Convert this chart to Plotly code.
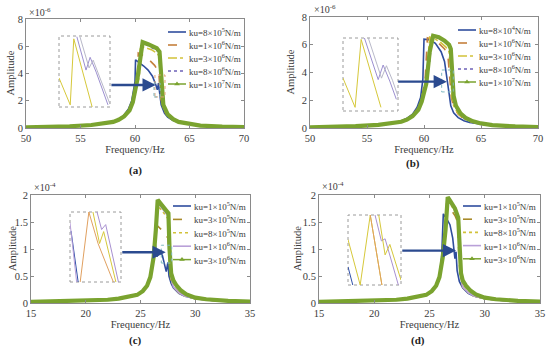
import plotly.graph_objects as go

W, H = 550, 354
FONT = "Liberation Serif, Times New Roman, DejaVu Serif, serif"
TXT = "#3a3a3a"
AX = "#8a8a8a"

# ---------------- data (amplitudes in units of the axis multiplier) ----------------
# Panel (a)  amplitude x1e-6
a_labels = ["ku=8×10<sup>5</sup>N/m", "ku=1×10<sup>6</sup>N/m", "ku=3×10<sup>6</sup>N/m",
            "ku=8×10<sup>6</sup>N/m", "ku=1×10<sup>7</sup>N/m"]
a1_f = [50, 52, 54, 56, 57, 58, 58.5, 59, 59.4, 59.7, 59.9, 60.0, 60.05, 60.4, 60.8, 61.2, 61.6, 61.9, 62.05, 62.15, 62.25, 62.4, 62.7, 63.0, 63.5, 64, 65, 66, 68, 70]
a1_A = [0.05, 0.08, 0.13, 0.22, 0.3, 0.48, 0.65, 0.95, 1.4, 2.0, 2.8, 3.4, 5.0, 4.8, 4.55, 4.25, 3.8, 3.2, 2.8, 3.3, 2.6, 1.7, 1.1, 0.8, 0.55, 0.42, 0.27, 0.18, 0.1, 0.06]
a2_f = [50, 52, 54, 56, 57, 58, 58.5, 59, 59.4, 59.7, 60.0, 60.2, 60.3, 60.8, 61.3, 61.8, 62.1, 62.2, 62.3, 62.5, 62.8, 63.2, 63.7, 64.5, 65.5, 67, 70]
a2_A = [0.05, 0.08, 0.13, 0.22, 0.3, 0.47, 0.63, 0.9, 1.3, 1.8, 2.6, 3.4, 5.5, 5.3, 5.0, 4.6, 4.2, 3.9, 2.6, 1.6, 1.1, 0.75, 0.52, 0.35, 0.24, 0.14, 0.06]
a3_f = [50, 52, 54, 56, 57, 58, 58.5, 59, 59.5, 59.8, 60.1, 60.4, 60.5, 61.0, 61.5, 62.0, 62.2, 62.3, 62.4, 62.6, 62.9, 63.3, 63.8, 64.5, 65.5, 67, 70]
a3_A = [0.05, 0.08, 0.13, 0.22, 0.3, 0.46, 0.62, 0.88, 1.4, 2.0, 2.9, 3.8, 6.0, 5.9, 5.75, 5.5, 5.3, 4.0, 2.2, 1.5, 1.05, 0.72, 0.5, 0.35, 0.24, 0.14, 0.06]
a4_f = [50, 52, 54, 56, 57, 58, 58.5, 59, 59.5, 59.8, 60.1, 60.4, 60.65, 61.2, 61.7, 62.2, 62.3, 62.4, 62.6, 62.9, 63.3, 63.8, 64.5, 65.5, 67, 70]
a4_A = [0.05, 0.08, 0.13, 0.22, 0.3, 0.46, 0.61, 0.86, 1.35, 1.9, 2.8, 4.0, 6.2, 6.05, 5.85, 5.6, 4.2, 2.4, 1.6, 1.1, 0.75, 0.52, 0.36, 0.25, 0.15, 0.06]
a5_f = [50, 52, 54, 56, 57, 58, 58.5, 59, 59.5, 59.8, 60.2, 60.5, 60.7, 61.2, 61.7, 62.0, 62.25, 62.35, 62.45, 62.6, 63.0, 63.5, 64.0, 65.0, 66.0, 68.0, 70]
a5_A = [0.05, 0.08, 0.13, 0.22, 0.3, 0.45, 0.6, 0.85, 1.3, 1.9, 3.5, 5.5, 6.3, 6.15, 5.95, 5.85, 5.6, 4.5, 2.5, 1.7, 1.0, 0.65, 0.45, 0.28, 0.18, 0.1, 0.06]

# Panel (b)  amplitude x1e-6
b_labels = ["ku=8×10<sup>4</sup>N/m", "ku=1×10<sup>6</sup>N/m", "ku=3×10<sup>6</sup>N/m",
            "ku=8×10<sup>6</sup>N/m", "ku=1×10<sup>7</sup>N/m"]
b1_f = [50, 52, 54, 56, 57, 58, 58.5, 59, 59.4, 59.7, 59.9, 60.0, 60.5, 61.0, 61.5, 61.8, 62.0, 62.1, 62.2, 62.35, 62.6, 63.0, 63.5, 64, 65, 66, 68, 70]
b1_A = [0.05, 0.08, 0.13, 0.22, 0.3, 0.5, 0.7, 1.0, 1.5, 2.2, 3.5, 6.4, 6.35, 6.1, 5.5, 4.8, 3.8, 3.3, 2.5, 1.6, 1.1, 0.75, 0.52, 0.4, 0.26, 0.17, 0.1, 0.06]
b2_f = [50, 52, 54, 56, 57, 58, 58.5, 59, 59.5, 59.8, 60.1, 60.3, 60.8, 61.3, 61.8, 62.1, 62.25, 62.4, 62.6, 63.0, 63.5, 64, 65, 66, 68, 70]
b2_A = [0.05, 0.08, 0.13, 0.22, 0.3, 0.48, 0.66, 0.95, 1.45, 2.1, 3.5, 6.5, 6.35, 6.1, 5.7, 5.2, 3.8, 2.2, 1.5, 1.0, 0.66, 0.47, 0.29, 0.19, 0.1, 0.06]
b3_f = [50, 52, 54, 56, 57, 58, 58.5, 59, 59.5, 59.8, 60.2, 60.5, 60.9, 61.4, 61.9, 62.2, 62.35, 62.45, 62.6, 63.0, 63.5, 64, 65, 66, 68, 70]
b3_A = [0.05, 0.08, 0.13, 0.22, 0.3, 0.47, 0.64, 0.92, 1.4, 2.0, 3.4, 6.55, 6.45, 6.2, 5.85, 5.5, 4.0, 2.3, 1.6, 1.05, 0.68, 0.48, 0.3, 0.19, 0.1, 0.06]
b4_f = [50, 52, 54, 56, 57, 58, 58.5, 59, 59.5, 59.8, 60.2, 60.5, 60.7, 61.2, 61.7, 62.1, 62.3, 62.45, 62.55, 62.7, 63.0, 63.5, 64, 65, 66, 68, 70]
b4_A = [0.05, 0.08, 0.13, 0.22, 0.3, 0.46, 0.62, 0.9, 1.35, 1.95, 3.2, 4.8, 6.6, 6.5, 6.3, 6.0, 5.7, 4.0, 2.4, 1.7, 1.15, 0.72, 0.5, 0.31, 0.2, 0.1, 0.06]
b5_f = [50, 52, 54, 56, 57, 58, 58.5, 59, 59.5, 59.8, 60.2, 60.5, 60.8, 61.3, 61.8, 62.2, 62.35, 62.5, 62.6, 62.8, 63.2, 63.7, 64.3, 65, 66, 68, 70]
b5_A = [0.05, 0.08, 0.13, 0.22, 0.3, 0.45, 0.6, 0.86, 1.3, 1.9, 3.2, 5.5, 6.65, 6.55, 6.3, 6.0, 5.7, 3.8, 2.3, 1.6, 1.05, 0.7, 0.48, 0.33, 0.21, 0.11, 0.06]

# Panel (c)  amplitude x1e-4
c_labels = ["ku=1×10<sup>5</sup>N/m", "ku=3×10<sup>5</sup>N/m", "ku=8×10<sup>5</sup>N/m",
            "ku=1×10<sup>6</sup>N/m", "ku=3×10<sup>6</sup>N/m"]
c1_f = [15, 18, 20, 22, 23, 24, 24.7, 25.2, 25.6, 25.9, 26.1, 26.3, 26.5, 26.8, 27.0, 27.2, 27.35, 27.5, 27.6, 27.8, 28.0, 28.5, 29, 30, 32, 35]
c1_A = [0.02, 0.03, 0.04, 0.06, 0.08, 0.11, 0.15, 0.22, 0.32, 0.5, 0.8, 1.17, 0.86, 0.95, 0.88, 0.7, 0.58, 0.75, 0.5, 0.36, 0.28, 0.18, 0.13, 0.08, 0.04, 0.02]
c2_f = [15, 18, 20, 22, 23, 24, 24.7, 25.2, 25.6, 25.9, 26.2, 26.4, 26.45, 26.8, 27.2, 27.5, 27.6, 27.75, 28.0, 28.5, 29, 30, 32, 35]
c2_A = [0.02, 0.03, 0.04, 0.06, 0.08, 0.11, 0.15, 0.22, 0.32, 0.48, 0.85, 1.2, 1.45, 1.38, 1.3, 1.2, 0.8, 0.45, 0.3, 0.19, 0.13, 0.08, 0.04, 0.02]
c3_f = [15, 18, 20, 22, 23, 24, 24.7, 25.2, 25.6, 25.9, 26.2, 26.4, 26.5, 26.8, 27.2, 27.55, 27.65, 27.8, 28.0, 28.5, 29, 30, 32, 35]
c3_A = [0.02, 0.03, 0.04, 0.06, 0.08, 0.11, 0.15, 0.22, 0.32, 0.48, 0.85, 1.25, 1.8, 1.75, 1.65, 1.55, 0.9, 0.45, 0.3, 0.19, 0.13, 0.08, 0.04, 0.02]
c4_f = [15, 18, 20, 22, 23, 24, 24.7, 25.2, 25.6, 25.9, 26.2, 26.4, 26.55, 26.8, 27.2, 27.55, 27.65, 27.8, 28.0, 28.5, 29, 30, 32, 35]
c4_A = [0.02, 0.03, 0.04, 0.06, 0.08, 0.11, 0.15, 0.22, 0.32, 0.48, 0.85, 1.3, 1.86, 1.8, 1.7, 1.6, 0.95, 0.46, 0.3, 0.19, 0.13, 0.08, 0.04, 0.02]
c5_f = [15, 18, 20, 22, 23, 24, 24.7, 25.2, 25.6, 25.9, 26.2, 26.4, 26.57, 26.8, 27.2, 27.55, 27.65, 27.8, 28.0, 28.3, 28.7, 29.2, 30, 31, 33, 35]
c5_A = [0.02, 0.03, 0.04, 0.06, 0.08, 0.11, 0.15, 0.22, 0.32, 0.48, 0.85, 1.35, 1.91, 1.85, 1.75, 1.66, 1.0, 0.55, 0.42, 0.32, 0.23, 0.16, 0.1, 0.07, 0.04, 0.025]

# Panel (d)  amplitude x1e-4
d_labels = c_labels
d1_f = [15, 18, 20, 22, 23, 24, 24.7, 25.2, 25.6, 25.9, 26.1, 26.25, 26.5, 26.85, 27.1, 27.3, 27.4, 27.5, 27.7, 28.0, 28.5, 29, 30, 32, 35]
d1_A = [0.02, 0.03, 0.04, 0.06, 0.08, 0.11, 0.15, 0.22, 0.33, 0.5, 0.85, 1.65, 1.58, 1.45, 1.2, 0.82, 0.95, 0.6, 0.4, 0.28, 0.18, 0.13, 0.08, 0.04, 0.02]
d2_f = [15, 18, 20, 22, 23, 24, 24.7, 25.2, 25.6, 25.9, 26.2, 26.45, 26.55, 26.9, 27.3, 27.55, 27.65, 27.8, 28.0, 28.5, 29, 30, 32, 35]
d2_A = [0.02, 0.03, 0.04, 0.06, 0.08, 0.11, 0.15, 0.22, 0.32, 0.48, 0.85, 1.3, 1.85, 1.75, 1.62, 1.5, 0.9, 0.46, 0.3, 0.19, 0.13, 0.08, 0.04, 0.02]
d3_f = [15, 18, 20, 22, 23, 24, 24.7, 25.2, 25.6, 25.9, 26.2, 26.45, 26.6, 26.9, 27.3, 27.6, 27.7, 27.85, 28.0, 28.5, 29, 30, 32, 35]
d3_A = [0.02, 0.03, 0.04, 0.06, 0.08, 0.11, 0.15, 0.22, 0.32, 0.48, 0.85, 1.3, 1.92, 1.82, 1.7, 1.55, 0.95, 0.48, 0.3, 0.19, 0.13, 0.08, 0.04, 0.02]
d4_f = d3_f
d4_A = [0.02, 0.03, 0.04, 0.06, 0.08, 0.11, 0.15, 0.22, 0.32, 0.48, 0.85, 1.32, 1.94, 1.84, 1.72, 1.57, 0.97, 0.48, 0.3, 0.19, 0.13, 0.08, 0.04, 0.02]
d5_f = [15, 18, 20, 22, 23, 24, 24.7, 25.2, 25.6, 25.9, 26.2, 26.45, 26.65, 26.9, 27.3, 27.6, 27.7, 27.85, 28.0, 28.3, 28.7, 29.2, 30, 31, 33, 35]
d5_A = [0.02, 0.03, 0.04, 0.06, 0.08, 0.11, 0.15, 0.22, 0.32, 0.48, 0.85, 1.35, 1.96, 1.88, 1.75, 1.58, 1.0, 0.55, 0.42, 0.32, 0.23, 0.16, 0.1, 0.07, 0.04, 0.025]

# Inset (zoomed view) polylines, normalised 0..1 inside each inset box
ins_a = [("#D6C83A", [0, 0.22, 0.29, 0.65], [0.41, 0.03, 0.96, 0.0]),
         ("#9C8FD0", [0.35, 0.53, 0.61, 0.73, 0.96], [0.99, 0.52, 0.70, 0.49, 0.03]),
         ("#B8B8C8", [0.41, 0.59, 0.67, 0.78, 1.0], [0.99, 0.55, 0.66, 0.45, 0.04])]
ins_b = [("#D6C83A", [0, 0.22, 0.33, 0.69], [0.45, 0.05, 0.98, 0.05]),
         ("#9C8FD0", [0.39, 0.64, 0.73, 0.85, 0.97], [1.0, 0.43, 0.63, 0.41, 0.16]),
         ("#B8B8C8", [0.46, 0.70, 0.79, 0.90, 1.0], [1.0, 0.45, 0.62, 0.42, 0.2])]
ins_c = [("#3050A8", [0.02, 0.16], [0.73, 0.0]),
         ("#B9A0D8", [0.0, 0.13], [0.85, 0.0]),
         ("#E0A060", [0.2, 0.37, 0.55, 0.85], [0.0, 1.0, 0.55, 0.0]),
         ("#D6C83A", [0.45, 0.58, 0.66, 0.9], [1.0, 0.55, 0.72, 0.0]),
         ("#A890D0", [0.53, 0.62, 0.7, 0.95], [1.0, 0.75, 0.82, 0.0])]
ins_d = [("#3050A8", [0.0, 0.09], [0.26, 0.0]),
         ("#D6C83A", [0.0, 0.23, 0.42, 0.64], [0.65, 0.0, 1.0, 0.0]),
         ("#E0A060", [0.42, 0.64], [1.0, 0.0]),
         ("#A890D0", [0.51, 0.63, 0.7, 0.95], [1.0, 0.63, 0.66, 0.0]),
         ("#D6C83A", [0.58, 0.7, 0.79, 1.0], [1.0, 0.43, 0.58, 0.07])]

# ---------------- layout geometry (pixel boxes) ----------------
panels = [
    dict(box=(26, 19, 244, 128), xr=[50, 70], xt=[50, 55, 60, 65, 70], yr=[0, 8], yt=[0, 2, 4, 6, 8],
         exp="×10<sup>-6</sup>", exp_xy=(27, 12), lab="(a)", lab_xy=(135, 170), ylab_x=10,
         inset=(59, 36, 110, 107), ins=ins_a, labels=a_labels,
         series=[(a1_f, a1_A), (a2_f, a2_A), (a3_f, a3_A), (a4_f, a4_A), (a5_f, a5_A)],
         leg=(168, 32, 13.0), arrow=(57.7, 3.16, 61.9, 3.16),
         rects=[(61.83, 2.28, 62.75, 3.89, "#E0A070"), (61.74, 2.28, 62.3, 3.3, "#7FB8C0")]),
    dict(box=(310, 17, 538, 128), xr=[50, 70], xt=[50, 55, 60, 65, 70], yr=[0, 8], yt=[0, 2, 4, 6, 8],
         exp="×10<sup>-6</sup>", exp_xy=(312, 9), lab="(b)", lab_xy=(413, 164), ylab_x=290,
         inset=(343, 38, 398, 111), ins=ins_b, labels=b_labels,
         series=[(b1_f, b1_A), (b2_f, b2_A), (b3_f, b3_A), (b4_f, b4_A), (b5_f, b5_A)],
         leg=(458, 30, 13.0), arrow=(57.6, 3.34, 62.0, 3.34),
         rects=[(61.55, 2.6, 62.57, 4.18, "#7FB8C0")]),
    dict(box=(31, 195, 250, 303), xr=[15, 35], xt=[15, 20, 25, 30, 35], yr=[0, 2], yt=[0, 0.5, 1, 1.5, 2],
         exp="×10<sup>-4</sup>", exp_xy=(32, 187), lab="(c)", lab_xy=(135, 340), ylab_x=12,
         inset=(70, 212, 121, 282), ins=ins_c, labels=c_labels,
         series=[(c1_f, c1_A), (c2_f, c2_A), (c3_f, c3_A), (c4_f, c4_A), (c5_f, c5_A)],
         leg=(173, 206, 13.4), arrow=(23.2, 0.94, 27.3, 0.94),
         rects=[(26.9, 0.74, 27.85, 1.07, "#7FB8C0")]),
    dict(box=(319, 195, 540, 303), xr=[15, 35], xt=[15, 20, 25, 30, 35], yr=[0, 2], yt=[0, 0.5, 1, 1.5, 2],
         exp="×10<sup>-4</sup>", exp_xy=(320, 186), lab="(d)", lab_xy=(418, 340), ylab_x=297,
         inset=(348, 215, 401, 285), ins=ins_d, labels=d_labels,
         series=[(d1_f, d1_A), (d2_f, d2_A), (d3_f, d3_A), (d4_f, d4_A), (d5_f, d5_A)],
         leg=(463, 206, 13.2), arrow=(22.4, 0.97, 27.4, 0.97),
         rects=[]),
]

styles_ab = [dict(color="#2F4D9E", dash="solid", width=1.6),
             dict(color="#C47F3C", dash="dash", width=1.6),
             dict(color="#D2C23A", dash="dashdot", width=1.6),
             dict(color="#6E62B8", dash="dot", width=1.6),
             dict(color="#7AA32F", dash="solid", width=4.2)]
styles_cd = [dict(color="#2F4D9E", dash="solid", width=1.6),
             dict(color="#A88A2A", dash="dash", width=1.6),
             dict(color="#D2C23A", dash="dot", width=1.6),
             dict(color="#B9A0D8", dash="solid", width=1.6),
             dict(color="#7AA32F", dash="solid", width=4.2)]

fig = go.Figure()
layout = dict(width=W, height=H, margin=dict(l=0, r=0, t=0, b=0, autoexpand=False), paper_bgcolor="white",
              plot_bgcolor="rgba(0,0,0,0)", showlegend=False, font=dict(family=FONT, color=TXT))
annotations, shapes = [], []

for i, p in enumerate(panels):
    n = i + 1
    sfx = "" if n == 1 else str(n)
    x0, y0, x1, y1 = p["box"]
    dx = [x0 / W, x1 / W]
    dy = [1 - y1 / H, 1 - y0 / H]
    axcommon = dict(showgrid=False, zeroline=False, showline=True, linecolor=AX, linewidth=1,
                    mirror="ticks", ticks="inside", ticklen=3, tickcolor=AX, automargin=False,
                    tickfont=dict(family=FONT, size=10.5, color=TXT))
    layout["xaxis" + sfx] = dict(domain=dx, range=p["xr"], tickvals=p["xt"], anchor="y" + sfx,
                                 title=dict(text="Frequency/Hz", font=dict(family=FONT, size=10.5, color=TXT), standoff=2),
                                 **axcommon)
    layout["yaxis" + sfx] = dict(domain=dy, range=p["yr"], tickvals=p["yt"], anchor="x" + sfx, **axcommon)
    styles = styles_ab if i < 2 else styles_cd
    for (f, A), st, lab in zip(p["series"], styles, p["labels"]):
        fig.add_trace(go.Scatter(x=f, y=A, mode="lines", name=lab, xaxis="x" + sfx, yaxis="y" + sfx,
                                 line=dict(color=st["color"], dash=st["dash"], width=st["width"])))
    yc = (y0 + y1) / 2
    annotations.append(dict(text="Amplitude", x=p["ylab_x"] / W, y=1 - yc / H, xref="paper", yref="paper",
                            xanchor="center", yanchor="middle",
                            textangle=-90, showarrow=False, font=dict(family=FONT, size=10.5, color=TXT)))
    ex, ey = p["exp_xy"]
    annotations.append(dict(text=p["exp"], x=ex / W, y=1 - ey / H, xref="paper", yref="paper",
                            xanchor="left", yanchor="middle", showarrow=False,
                            font=dict(family=FONT, size=10, color=TXT)))
    lx, ly = p["lab_xy"]
    annotations.append(dict(text="<b>" + p["lab"] + "</b>", x=lx / W, y=1 - ly / H, xref="paper", yref="paper",
                            xanchor="center", yanchor="middle",
                            showarrow=False, font=dict(family=FONT, size=11, color="#222")))
    ix0, iy0, ix1, iy1 = p["inset"]
    ia = str(4 + n)
    layout["xaxis" + ia] = dict(domain=[ix0 / W, ix1 / W], range=[0, 1], visible=False, anchor="y" + ia)
    layout["yaxis" + ia] = dict(domain=[1 - iy1 / H, 1 - iy0 / H], range=[0, 1], visible=False, anchor="x" + ia)
    shapes.append(dict(type="rect", xref="paper", yref="paper", x0=ix0 / W, x1=ix1 / W, y0=1 - iy1 / H,
                       y1=1 - iy0 / H, line=dict(color="#9a9a9a", width=1, dash="dot"), fillcolor="white",
                       layer="below"))
    for col, ux, uy in p["ins"]:
        fig.add_trace(go.Scatter(x=ux, y=uy, mode="lines", xaxis="x" + ia, yaxis="y" + ia,
                                 line=dict(color=col, width=1), hoverinfo="skip"))
    for (rx0, ry0, rx1, ry1, rc) in p["rects"]:
        shapes.append(dict(type="rect", xref="x" + sfx, yref="y" + sfx, x0=rx0, x1=rx1, y0=ry0, y1=ry1,
                           line=dict(color=rc, width=1, dash="dot")))
    ax0, ay0, ax1, ay1 = p["arrow"]
    annotations.append(dict(x=ax1, y=ay1, ax=ax0, ay=ay0, xref="x" + sfx, yref="y" + sfx,
                            axref="x" + sfx, ayref="y" + sfx, showarrow=True, arrowhead=2, arrowsize=1.1,
                            arrowwidth=2.4, arrowcolor="#2B4A8F", text=""))
    lgx, lgy, lgs = p["leg"]
    for k, (st, lab) in enumerate(zip(styles, p["labels"])):
        yy = lgy + k * lgs
        w = 1.5 if k == 4 else st["width"]
        fig.add_trace(go.Scatter(x=[lgx, lgx + 18], y=[yy, yy], mode="lines", xaxis="x9", yaxis="y9",
                                 line=dict(color=st["color"], dash=st["dash"], width=w), hoverinfo="skip"))
        if k == 4:
            fig.add_trace(go.Scatter(x=[lgx + 9], y=[yy], mode="markers", xaxis="x9", yaxis="y9",
                                     marker=dict(symbol="triangle-up", size=5, color=st["color"]),
                                     hoverinfo="skip"))
        annotations.append(dict(text=lab, x=(lgx + 19) / W, y=1 - yy / H, xref="paper", yref="paper",
                                xanchor="left", yanchor="middle", showarrow=False,
                                font=dict(family=FONT, size=9, color=TXT)))

layout["xaxis9"] = dict(domain=[0, 1], range=[0, W], visible=False, anchor="y9")
layout["yaxis9"] = dict(domain=[0, 1], range=[H, 0], visible=False, anchor="x9")
layout["annotations"] = annotations
layout["shapes"] = shapes
fig.update_layout(**layout)
fig.write_html("out.html", config={"displayModeBar": False},
               post_script="document.body.style.margin='0';document.body.style.overflow='hidden';")
